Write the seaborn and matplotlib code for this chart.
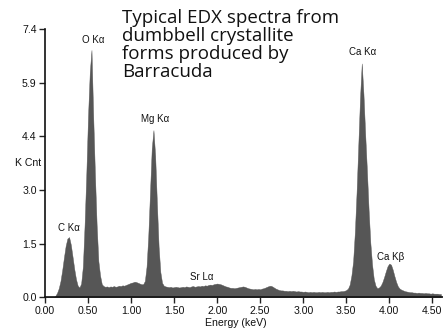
import numpy as np
import pandas as pd
import matplotlib
matplotlib.use("Agg")
import matplotlib.pyplot as plt
import seaborn as sns

# ---- data ----
channel_width = 0.02  # keV per channel
counts = [
    0.00, 0.00, 0.00, 0.00, 0.00, 0.00, 0.04, 0.12, 0.25, 0.45,   # 0.00-0.18
    0.75, 1.10, 1.42, 1.62, 1.66, 1.45, 1.12, 0.78, 0.50, 0.32,   # 0.20-0.38
    0.27, 0.38, 0.85, 2.00, 3.40, 5.00, 6.20, 6.82, 5.00, 3.40,   # 0.40-0.58
    2.00, 1.00, 0.60, 0.36, 0.31, 0.29, 0.30, 0.28, 0.30, 0.29,   # 0.60-0.78
    0.31, 0.29, 0.30, 0.32, 0.31, 0.33, 0.32, 0.34, 0.36, 0.38,   # 0.80-0.98
    0.40, 0.41, 0.43, 0.42, 0.40, 0.38, 0.36, 0.36, 0.45, 0.85,   # 1.00-1.18
    1.70, 2.90, 4.10, 4.61, 3.90, 2.60, 1.40, 0.70, 0.40, 0.32,   # 1.20-1.38
    0.30, 0.29, 0.28, 0.29, 0.27, 0.28, 0.29, 0.28, 0.27, 0.28,   # 1.40-1.58
    0.29, 0.28, 0.30, 0.29, 0.28, 0.30, 0.31, 0.29, 0.30, 0.31,   # 1.60-1.78
    0.30, 0.32, 0.31, 0.33, 0.32, 0.34, 0.35, 0.34, 0.36, 0.37,   # 1.80-1.98
    0.38, 0.37, 0.36, 0.34, 0.32, 0.30, 0.29, 0.27, 0.26, 0.26,   # 2.00-2.18
    0.25, 0.26, 0.27, 0.28, 0.29, 0.30, 0.29, 0.27, 0.25, 0.24,   # 2.20-2.38
    0.23, 0.22, 0.23, 0.22, 0.23, 0.22, 0.24, 0.25, 0.27, 0.29,   # 2.40-2.58
    0.31, 0.32, 0.30, 0.27, 0.24, 0.22, 0.20, 0.19, 0.19, 0.18,   # 2.60-2.78
    0.18, 0.17, 0.18, 0.17, 0.18, 0.17, 0.16, 0.17, 0.16, 0.16,   # 2.80-2.98
    0.15, 0.16, 0.15, 0.14, 0.15, 0.14, 0.15, 0.14, 0.14, 0.15,   # 3.00-3.18
    0.14, 0.15, 0.14, 0.14, 0.15, 0.14, 0.15, 0.15, 0.16, 0.15,   # 3.20-3.38
    0.16, 0.16, 0.17, 0.17, 0.18, 0.20, 0.24, 0.35, 0.60, 1.00,   # 3.40-3.58
    1.80, 2.90, 4.20, 5.50, 6.45, 5.60, 4.50, 3.50, 2.40, 1.50,   # 3.60-3.78
    0.90, 0.50, 0.32, 0.25, 0.27, 0.32, 0.42, 0.56, 0.72, 0.86,   # 3.80-3.98
    0.93, 0.90, 0.76, 0.58, 0.42, 0.30, 0.24, 0.21, 0.19, 0.17,   # 4.00-4.18
    0.16, 0.15, 0.14, 0.14, 0.13, 0.13, 0.12, 0.13, 0.12, 0.12,   # 4.20-4.38
    0.11, 0.12, 0.11, 0.11, 0.10, 0.11, 0.10, 0.10, 0.10, 0.09,   # 4.40-4.58
    0.09,                                                         # 4.60
]
energies = np.round(np.arange(len(counts)) * channel_width, 2)

peak_labels = ["C K\u03b1", "O K\u03b1", "Mg K\u03b1", "Sr L\u03b1", "Ca K\u03b1", "Ca K\u03b2"]
peak_label_x = [0.28, 0.56, 1.28, 1.825, 3.69, 4.01]
peak_label_y = [1.91, 7.10, 4.92, 0.56, 6.77, 1.11]

x_ticks = [0.0, 0.5, 1.0, 1.5, 2.0, 2.5, 3.0, 3.5, 4.0, 4.5]
x_tick_labels = ["0.00", "0.50", "1.00", "1.50", "2.00", "2.50", "3.00", "3.50", "4.00", "4.50"]
y_ticks = [0.0, 1.48, 2.96, 4.44, 5.92, 7.4]
y_tick_labels = ["0.0", "1.5", "3.0", "4.4", "5.9", "7.4"]

title_text = "Typical EDX spectra from\ndumbbell crystallite\nforms produced by\nBarracuda"

# ---- plot ----
sns.set_style("ticks")
plt.rcParams["font.family"] = ["Liberation Sans", "DejaVu Sans"]

W, H = 443, 331
fig = plt.figure(figsize=(W / 100, H / 100), dpi=100)
ax = fig.add_axes([45 / W, (H - 297.3) / H, (W - 45) / W, (297.3 - 29) / H])

df = pd.DataFrame({"energy": energies, "counts": counts})
sns.histplot(data=df, x="energy", weights="counts", binwidth=channel_width,
             binrange=(energies[0] - channel_width / 2, energies[-1] + channel_width / 2),
             element="poly", fill=True, color="#565656", alpha=1, linewidth=0.3,
             edgecolor="#565656", ax=ax)

ax.set_xlim(0, 4.624)
ax.set_ylim(0, 7.4)
ax.set_xlabel("")
ax.set_ylabel("")
ax.set_xticks(x_ticks)
ax.set_xticklabels(x_tick_labels)
ax.set_yticks(y_ticks)
ax.set_yticklabels(y_tick_labels)
ax.tick_params(axis="both", direction="out", length=4.5, width=1, labelsize=7.6,
               color="#222222", labelcolor="#111111", pad=1.5)
for s in ["top", "right"]:
    ax.spines[s].set_visible(False)
for s in ["left", "bottom"]:
    ax.spines[s].set_linewidth(1.2)
    ax.spines[s].set_color("#111111")
ax.patch.set_alpha(0)

for lab, lx, ly in zip(peak_labels, peak_label_x, peak_label_y):
    ax.text(lx, ly, lab, ha="center", va="center", fontsize=7, color="#111111",
            clip_on=False)

fig.text(41 / W, 1 - 163 / H, "K Cnt", ha="right", va="center", fontsize=7.6,
         color="#111111")
fig.text(236 / W, 1 - 323 / H, "Energy (keV)", ha="center", va="center",
         fontsize=7.6, color="#111111")

fig.text(122 / W, 1 - 9 / H, title_text, ha="left", va="top", fontsize=13.5,
         family=["Open Sans", "DejaVu Sans"], linespacing=1.0, color="#111111")

fig.savefig("out.png", dpi=100, facecolor="white")
